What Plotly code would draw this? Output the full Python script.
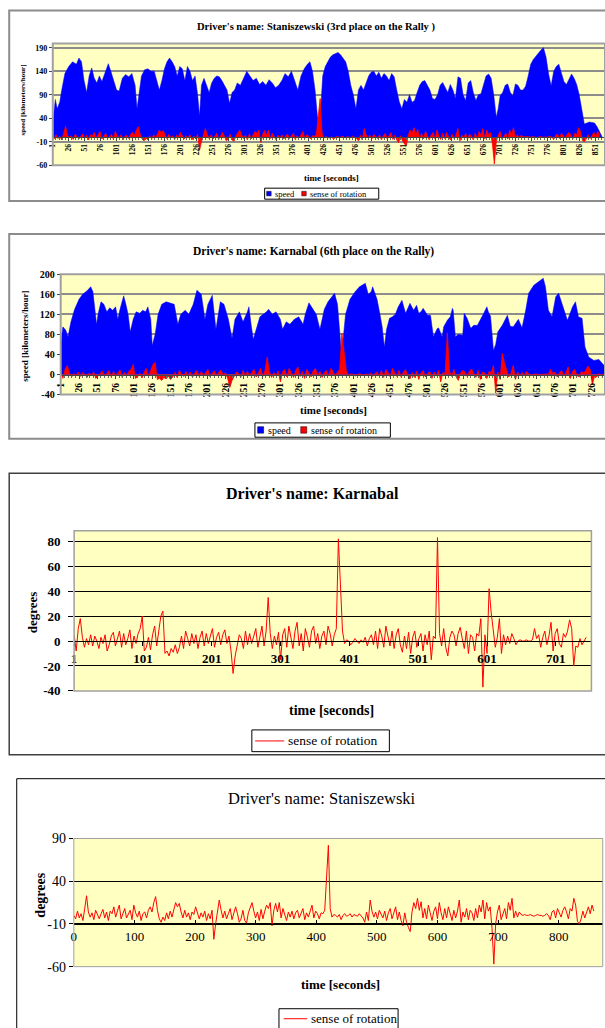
import plotly.graph_objects as go

# ---------------- data ----------------
# Staniszewski: speed [km/h] at selected times [s]
stan_speed_t = [1, 5, 8, 12, 15, 20, 26, 32, 38, 42,
                46, 50, 54, 58, 62, 66, 70, 74, 78, 84,
                88, 92, 96, 101, 105, 110, 115, 120, 125, 130,
                133, 136, 140, 145, 150, 155, 160, 165, 168, 172,
                176, 180, 184, 188, 192, 196, 200, 204, 208, 212,
                216, 220, 224, 228, 231, 234, 238, 242, 246, 250,
                254, 258, 262, 266, 270, 274, 278, 282, 286, 290,
                295, 300, 305, 310, 315, 320, 325, 330, 335, 340,
                345, 350, 355, 360, 365, 370, 375, 380, 385, 390,
                395, 400, 404, 408, 412, 416, 418, 420, 424, 428,
                432, 436, 440, 444, 448, 452, 456, 460, 464, 468,
                472, 476, 480, 484, 488, 492, 496, 500, 504, 508,
                512, 516, 520, 524, 528, 532, 536, 540, 544, 548,
                552, 556, 560, 564, 568, 572, 576, 580, 584, 588,
                592, 596, 600, 604, 608, 612, 616, 620, 624, 628,
                632, 636, 640, 644, 648, 652, 656, 660, 664, 668,
                672, 676, 680, 684, 688, 692, 696, 699, 702, 706,
                710, 714, 718, 722, 726, 730, 734, 738, 742, 746,
                750, 754, 758, 762, 766, 770, 774, 778, 782, 786,
                790, 794, 798, 802, 806, 810, 814, 818, 822, 826,
                830, 834, 838, 842, 846, 850, 854, 858, 862]
stan_speed_kmh = [30, 80, 60, 75, 100, 135, 150, 160, 155, 168,
                  160, 120, 95, 130, 147, 125, 115, 130, 118, 140,
                  156, 140, 120, 100, 98, 125, 133, 128, 135, 110,
                  60, 95, 130, 143, 145, 140, 140, 115, 100, 120,
                  145, 160, 168, 160, 150, 130, 150, 145, 120, 150,
                  140, 120, 130, 90, 45, 110, 125, 110, 95, 115,
                  125, 130, 128, 120, 110, 100, 72, 95, 100, 115,
                  110, 125, 140, 130, 120, 125, 112, 118, 110, 122,
                  115, 105, 110, 120, 135, 128, 140, 120, 100, 130,
                  145, 155, 160, 140, 100, 40, 5, 40, 130, 150,
                  160, 170, 175, 178, 180, 175, 168, 160, 140, 110,
                  90, 60, 100, 110, 100, 115, 130, 138, 140, 130,
                  138, 125, 135, 130, 120, 135, 128, 100, 75, 60,
                  80, 74, 90, 74, 78, 95, 110, 118, 120, 110,
                  100, 82, 80, 90, 110, 116, 105, 95, 112, 100,
                  82, 128, 125, 90, 78, 115, 120, 95, 78, 90,
                  92, 110, 130, 134, 125, 90, 42, 60, 88, 95,
                  110, 113, 95, 88, 113, 110, 100, 100, 108, 130,
                  155, 165, 172, 178, 185, 190, 170, 134, 109, 140,
                  150, 155, 135, 118, 112, 125, 134, 125, 112, 90,
                  60, 28, 30, 32, 31, 30, 22, 10, 0]

# Karnabal: speed [km/h] at selected times [s]
karn_speed_t = [1, 4, 8, 11, 15, 20, 26, 31, 37, 42,
                45, 48, 50, 52, 56, 60, 64, 68, 72, 76,
                79, 82, 87, 90, 93, 96, 100, 104, 109, 113,
                117, 120, 124, 126, 130, 134, 139, 145, 150, 156,
                161, 165, 171, 176, 182, 187, 193, 198, 202, 208,
                213, 219, 224, 230, 235, 239, 245, 250, 256, 258,
                261, 264, 268, 273, 282, 285, 290, 295, 301, 304,
                309, 314, 320, 326, 332, 335, 340, 346, 350, 355,
                361, 366, 371, 375, 379, 382, 384, 386, 390, 396,
                403, 409, 413, 417, 421, 425, 427, 431, 433, 437,
                440, 443, 446, 450, 454, 458, 462, 467, 472, 478,
                483, 487, 490, 493, 496, 502, 506, 510, 515, 517,
                522, 524, 529, 533, 536, 537, 540, 544, 550, 552,
                556, 561, 565, 570, 574, 578, 583, 585, 588, 592,
                595, 598, 604, 611, 615, 619, 626, 631, 636, 640,
                647, 654, 660, 663, 667, 672, 677, 681, 688, 693,
                700, 704, 708, 713, 717, 722, 729, 736, 743, 746]
karn_speed_kmh = [60, 95, 88, 75, 105, 130, 150, 160, 167, 175,
                  165, 130, 100, 120, 145, 140, 125, 133, 128, 135,
                  110, 130, 157, 140, 120, 85, 110, 125, 122, 128,
                  125, 135, 110, 58, 80, 120, 140, 145, 143, 140,
                  100, 120, 128, 120, 140, 168, 160, 110, 140, 158,
                  90, 145, 140, 110, 72, 110, 125, 105, 125, 135,
                  100, 70, 90, 115, 125, 130, 120, 125, 110, 90,
                  105, 100, 110, 115, 100, 120, 143, 130, 120, 90,
                  130, 145, 155, 162, 140, 80, 50, 60, 120, 150,
                  165, 175, 178, 182, 160, 165, 175, 160, 150, 120,
                  95, 55, 90, 112, 115, 120, 135, 148, 122, 142,
                  128, 138, 122, 125, 132, 118, 118, 75, 91, 93,
                  75, 95, 108, 115, 132, 128, 75, 80, 78, 122,
                  112, 92, 98, 98, 108, 120, 135, 125, 116, 48,
                  60, 85, 98, 118, 96, 95, 110, 93, 128, 162,
                  178, 185, 192, 175, 128, 115, 155, 162, 132, 108,
                  135, 145, 115, 112, 55, 35, 28, 30, 18, 10]

# Staniszewski: sense of rotation [degrees], one reading every 3 s from t = 0
stan_rot_deg = [0, -4, 5, -3, 2, -6, 8, 23, 4, -2,
                3, -5, 6, 1, -4, 2, 7, -3, 4, -6,
                5, 2, 10, -2, 4, 12, -4, 3, 8, -3,
                2, 6, -5, 12, 3, -2, 5, -6, 2, 4,
                -3, 6, 10, 4, 15, 22, 6, -4, -8, -2,
                -6, 3, -4, 5, -2, 8, 15, 10, 14, 4,
                -3, 6, -2, 3, -5, 4, 1, 10, 2, -4,
                3, -2, 5, -6, 2, -4, 6, -28, -10, 4,
                18, 6, -3, 5, -4, 2, 8, -5, 3, 10,
                2, -8, -4, 6, -6, -9, 3, 8, 15, 5,
                -3, 4, -6, 7, -4, 5, 12, 8, 15, -12,
                6, 14, 4, 15, -3, 8, 2, -6, 4, -2,
                5, -4, 3, 6, -3, 2, 8, -5, 3, -2,
                4, 12, -3, 5, 2, -4, 3, 2, 6, 45,
                82, 8, -2, 1, 0, -2, 1, -5, 0, 2,
                -1, 0, 2, -2, 1, 0, -1, 2, 0, -3,
                -8, 4, -6, 18, 5, -2, 4, -4, 6, 2,
                -3, 5, -6, 3, 8, -4, 2, 10, -5, 4,
                -6, -12, 3, -8, -14, -19, 4, 15, 8, 20,
                6, 16, -3, 8, -4, 12, 3, -6, 5, 10,
                -4, 15, 3, -5, 8, -3, 10, 2, -6, 6,
                -3, 5, 18, -8, 4, -2, 8, -5, 6, 3,
                -6, 8, -3, 12, 4, 18, -4, 15, 5, 10,
                -15, -57, -10, 4, 12, -5, 3, 8, -4, 15,
                6, 20, -3, 5, -2, 4, 1, 0, 1, 0,
                0, 1, 0, -1, 0, 1, 0, 0, -1, 0,
                2, 0, -5, 4, 6, -3, 8, 3, -2, 6,
                10, 4, -4, 8, 5, 20, 12, -7, -10, -4,
                5, -3, 3, 10, 2, 12, 5]

# Karnabal: sense of rotation [degrees], one reading every 3 s from t = 1
karn_rot_deg = [5, -8, 10, 18, 3, -5, 2, -3, 5, -4,
                4, 0, -6, 3, -2, 5, -8, -3, 4, 7,
                -4, 3, 8, -5, 6, -3, 2, 9, -6, 4,
                -2, 6, 10, 20, -8, -5, 3, -7, 5, 12,
                -4, 8, 20, 24, -10, -8, -12, -6, -9, -3,
                -10, -5, 4, -6, 8, 2, -4, 6, -2, 5,
                -6, 3, 8, -4, 6, -2, 4, 10, -5, 3,
                7, -3, 5, 9, -2, 4, -8, -26, -12, -4,
                5, 2, -6, 8, -3, 6, -2, 4, 10, -5,
                3, 12, -4, 8, 35, 6, -6, 4, -3, 7,
                -15, 5, 10, -5, 12, 3, -6, 8, 15, -4,
                6, -8, 10, 3, -5, 8, 12, -2, 6, -6,
                4, 8, -3, 12, 6, -4, 5, 10, 82, 45,
                8, -2, 1, 0, -3, -1, 2, 0, -2, 1,
                -1, 3, -4, 2, 5, -3, 8, -6, 10, 4,
                -5, 12, 3, -4, 8, -6, 5, 10, -3, -9,
                4, -6, 7, -10, 3, 8, -5, 2, 6, -8,
                5, -3, 8, -15, 4, 2, 83, 6, -4, 10,
                -5, -12, 3, 8, 5, -4, 6, 11, 2, -6,
                8, -10, 5, 3, -8, 6, 4, 18, -37, 5,
                -10, 42, 23, 10, -5, 3, 18, -10, 5, -3,
                4, -2, 6, 2, -3, 0, 1, 0, 0, 1,
                0, 0, 1, 10, 2, 5, -5, 3, 8, -3,
                4, 15, -8, 6, 10, -2, -5, 6, 3, 8,
                17, 10, -20, -4, -5, 2, -3, 0, 3]

stan_rot_t = [3 * i for i in range(len(stan_rot_deg))]
karn_rot_t = [1 + 3 * i for i in range(len(karn_rot_deg))]

# tick labels
p1_yticks = [-60, -10, 40, 90, 140, 190]
p2_yticks = [-40, 0, 40, 80, 120, 160, 200]
p3_yticks = [-40, -20, 0, 20, 40, 60, 80]
p4_yticks = [-60, -10, 40, 90]
p3_xticks = [1, 101, 201, 301, 401, 501, 601, 701]
p4_xticks = [0, 100, 200, 300, 400, 500, 600, 700, 800]

panel_titles = ["Driver's name: Staniszewski (3rd place on the Rally )",
                "Driver's name: Karnabal (6th place on the Rally)",
                "Driver's name: Karnabal",
                "Driver's name: Staniszewski"]
speed_name = "speed"
rot_name = "sense of rotation"
speed_title = "speed [kilometers/hour]"
deg_title = "degrees"
time_title = "time [seconds]"

# ---------------- figure ----------------
W, H = 605, 1028
SX, OX = 0.99, 5.3
SY, OY = 0.984, 6.4


def fx(x):
    return ((x - OX) / SX) / W


def fy(y):
    return 1 - ((y - OY) / SY) / H


SERIF = "Liberation Serif"
BLUE = "#0000FF"
RED = "#FF0000"
YEL = "#FFFFC2"


def f(size, bold=False, color="black"):
    d = dict(family=SERIF, size=size, color=color)
    if bold:
        d["weight"] = "bold"
    return d


def lab(v):
    return [str(x) for x in v]   # plain hyphen-minus like the original


fig = go.Figure()

# panel 1 : Staniszewski area chart
fig.add_trace(go.Scatter(x=stan_speed_t, y=stan_speed_kmh, name=speed_name, mode="lines",
                         line=dict(color=BLUE, width=0.5), fill="tozeroy", fillcolor=BLUE,
                         xaxis="x", yaxis="y"))
fig.add_trace(go.Scatter(x=stan_rot_t, y=stan_rot_deg, name=rot_name, mode="lines",
                         line=dict(color=RED, width=0.8), fill="tozeroy", fillcolor=RED,
                         xaxis="x", yaxis="y"))
# panel 2 : Karnabal area chart
fig.add_trace(go.Scatter(x=karn_speed_t, y=karn_speed_kmh, name=speed_name, mode="lines",
                         line=dict(color=BLUE, width=0.5), fill="tozeroy", fillcolor=BLUE,
                         xaxis="x2", yaxis="y2"))
fig.add_trace(go.Scatter(x=karn_rot_t, y=karn_rot_deg, name=rot_name, mode="lines",
                         line=dict(color=RED, width=0.8), fill="tozeroy", fillcolor=RED,
                         xaxis="x2", yaxis="y2"))
# panel 3 : Karnabal rotation line
fig.add_trace(go.Scatter(x=karn_rot_t, y=karn_rot_deg, name=rot_name, mode="lines",
                         line=dict(color=RED, width=1), xaxis="x3", yaxis="y3"))
# panel 4 : Staniszewski rotation line
fig.add_trace(go.Scatter(x=stan_rot_t, y=stan_rot_deg, name=rot_name, mode="lines",
                         line=dict(color=RED, width=1), xaxis="x4", yaxis="y4"))

common_x = dict(anchor="free", showgrid=False, zeroline=False, fixedrange=True)
common_y = dict(zeroline=False, fixedrange=True, ticks="outside", tickmode="array")

# pixel position of the figure's right edge in reference coordinates
RIGHT = OX + SX * W

layout = dict(
    width=W, height=H, margin=dict(l=0, r=0, t=0, b=0),
    paper_bgcolor="white", plot_bgcolor=YEL, showlegend=False,
    # panel 1
    xaxis=dict(common_x, domain=[fx(53), 1], range=[1, 1 + (RIGHT - 53) / 0.637],
               position=fy(136.3),
               tick0=26, dtick=25, tickangle=-90, tickfont=f(7.5, True),
               ticks="outside", ticklen=3, tickcolor="#444",
               showline=True, linecolor="#444", linewidth=1,
               minor=dict(ticks="outside", ticklen=2, tick0=1, dtick=5, tickcolor="#666")),
    yaxis=dict(common_y, anchor="x", domain=[fy(164.5), fy(42.8)], range=[-60, 199],
               tickvals=p1_yticks, ticktext=lab(p1_yticks), tickfont=f(8, True),
               ticklen=3, tickcolor="#444", showgrid=True, gridcolor="#8c8c8c", gridwidth=1.5),
    # panel 2
    xaxis2=dict(common_x, domain=[fx(60.9), 1], range=[1, 1 + (RIGHT - 60.9) / 0.731],
                position=fy(374),
                tick0=26, dtick=25, tickangle=-90, tickfont=f(9.5, True),
                ticks="outside", ticklen=3, tickcolor="#444",
                showline=True, linecolor="#444", linewidth=1,
                minor=dict(ticks="outside", ticklen=2, tick0=1, dtick=5, tickcolor="#666")),
    yaxis2=dict(common_y, anchor="x2", domain=[fy(393.3), fy(273.3)], range=[-40, 200],
                tickvals=p2_yticks, ticktext=lab(p2_yticks), tickfont=f(10, True),
                ticklen=3, tickcolor="#444", showgrid=True, gridcolor="#8c8c8c", gridwidth=1.5),
    # panel 3
    xaxis3=dict(common_x, domain=[fx(74.3), fx(590.7)], range=[1, 752.7], position=fy(639.3),
                tickmode="array", tickvals=p3_xticks, ticktext=lab(p3_xticks),
                tickfont=f(13, True), ticks="outside", ticklen=4, tickcolor="black",
                ticklabelstandoff=2, showline=True, linecolor="black", linewidth=1),
    yaxis3=dict(common_y, anchor="x3", domain=[fy(689.3), fy(529.3)], range=[-40, 88.6],
                tickvals=p3_yticks, ticktext=lab(p3_yticks), tickfont=f(13, True),
                ticklen=5, tickcolor="black", ticklabelstandoff=5,
                showgrid=True, gridcolor="black", gridwidth=1),
    # panel 4
    xaxis4=dict(common_x, domain=[fx(74), fx(602)], range=[0, 872.7], position=fy(922),
                tickmode="array", tickvals=p4_xticks, ticktext=lab(p4_xticks),
                tickfont=f(13), ticks="inside", ticklen=4, tickcolor="black",
                showline=True, linecolor="black", linewidth=1),
    yaxis4=dict(common_y, anchor="x4", domain=[fy(964.7), fy(836.7)], range=[-60, 90],
                tickvals=p4_yticks, ticktext=lab(p4_yticks), tickfont=f(14),
                ticklen=4, tickcolor="black", showgrid=True, gridcolor="black", gridwidth=1),
)
fig.update_layout(**layout)

# panel frames and plot-area frames
shapes = [
    dict(type="rect", xref="paper", yref="paper", x0=fx(9.5), x1=1.1, y0=fy(200), y1=fy(10),
         line=dict(color="#8c8c8c", width=2), layer="below"),
    dict(type="rect", xref="paper", yref="paper", x0=fx(9.5), x1=1.1, y0=fy(437.5), y1=fy(233),
         line=dict(color="#8c8c8c", width=2), layer="below"),
    dict(type="rect", xref="paper", yref="paper", x0=fx(9.5), x1=1.1, y0=fy(753), y1=fy(472),
         line=dict(color="#404040", width=1.5), layer="below"),
    dict(type="rect", xref="paper", yref="paper", x0=fx(17), x1=1.1, y0=-0.1, y1=fy(777),
         line=dict(color="black", width=1), layer="below"),
]
for ax, col, wd in [("", "#a0a0a0", 2), ("2", "#a0a0a0", 2), ("3", "#a0a0a0", 1.5), ("4", "#a0a0a0", 1)]:
    shapes.append(dict(type="rect", xref=f"x{ax} domain", yref=f"y{ax} domain",
                       x0=0, x1=1, y0=0, y1=1, line=dict(color=col, width=wd), layer="above"))

ann = []


def text(x, y, s, font, angle=0, xanchor="center"):
    ann.append(dict(x=fx(x), y=fy(y), xref="paper", yref="paper", text=s, showarrow=False,
                    xanchor=xanchor, yanchor="middle", font=font, textangle=angle))


def box(x0, x1, y0, y1):
    shapes.append(dict(type="rect", xref="paper", yref="paper", x0=fx(x0), x1=fx(x1),
                       y0=fy(y1), y1=fy(y0), fillcolor="white",
                       line=dict(color="black", width=1), layer="above"))


def swatch(x0, x1, y0, y1, color):
    shapes.append(dict(type="rect", xref="paper", yref="paper", x0=fx(x0), x1=fx(x1),
                       y0=fy(y1), y1=fy(y0), fillcolor=color,
                       line=dict(color="black", width=0.5), layer="above"))


def swline(x0, x1, y, color):
    shapes.append(dict(type="line", xref="paper", yref="paper", x0=fx(x0), x1=fx(x1),
                       y0=fy(y), y1=fy(y), line=dict(color=color, width=1), layer="above"))


# legends (Excel style)
box(264.5, 378.4, 187.3, 198.3)
swatch(266.5, 271, 190.5, 195, BLUE)
text(272.5, 193, speed_name, f(8.5), xanchor="left")
swatch(301.5, 306, 190.5, 195, RED)
text(307.5, 193, rot_name, f(8.5), xanchor="left")

box(254.8, 390, 421.7, 436)
swatch(257.5, 263.5, 425.5, 432, BLUE)
text(265.5, 429, speed_name, f(10), xanchor="left")
swatch(300.5, 306.5, 425.5, 432, RED)
text(308.5, 429, rot_name, f(10), xanchor="left")

box(251.7, 389, 728.3, 750)
swline(255, 284, 739.3, RED)
text(285.5, 739.3, rot_name, f(13.5), xanchor="left")

box(278.8, 397.7, 1006.7, 1027.7)
swline(283.5, 307, 1016.7, RED)
text(309, 1016.7, rot_name, f(13), xanchor="left")

# titles
text(316, 26, panel_titles[0], f(10.5, True))
text(313, 251, panel_titles[1], f(11.5, True))
text(312, 492, panel_titles[2], f(16, True))
text(322, 797, panel_titles[3], f(16.5))

text(331, 177, time_title, f(9, True))
text(333, 409, time_title, f(11, True))
text(331, 709, time_title, f(14, True))
text(340, 983, time_title, f(13, True))

text(23, 99, speed_title, f(7, True), -90)
text(25, 335, speed_title, f(9, True), -90)
text(33, 611, deg_title, f(13, True), -90)
text(41, 893, deg_title, f(14, True), -90)

fig.update_layout(shapes=shapes, annotations=ann)

fig.write_html("out.html", config={"displayModeBar": False},
               post_script="document.body.style.margin='0px';"
                           "document.body.style.overflow='hidden';")
